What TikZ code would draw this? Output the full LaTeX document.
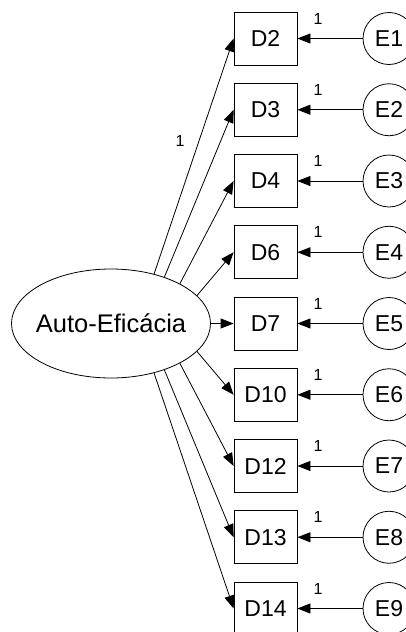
\documentclass[tikz,border=0pt]{standalone}
\usepackage{fontspec}
\setmainfont{Liberation Sans}
\usetikzlibrary{shapes.geometric,arrows.meta}
\begin{document}
\begin{tikzpicture}[x=1pt,y=-1pt,
  every node/.style={inner sep=0pt},
  obs/.style={draw, line width=0.8pt, minimum width=63pt, minimum height=53pt, font=\fontsize{23}{26}\selectfont},
  err/.style={draw, circle, line width=0.8pt, minimum size=52pt, font=\fontsize{23}{26}\selectfont},
  lat/.style={draw, ellipse, line width=0.8pt, inner xsep=-6pt, minimum width=199pt, minimum height=109pt, font=\fontsize{25.5}{28}\selectfont},
  path/.style={line width=0.8pt, -{Triangle[length=13pt,width=10pt]}},
  wlab/.style={font=\fontsize{16}{18}\selectfont}
]
\useasboundingbox (0,0) rectangle (406,632);
\clip (0,0) rectangle (406,632);

\node[lat] (ae) at (111,323.5) {Auto-Eficácia};

\foreach \d/\e/\i in {D2/E1/0,D3/E2/1,D4/E3/2,D6/E4/3,D7/E5/4,D10/E6/5,D12/E7/6,D13/E8/7,D14/E9/8}{
  \node[obs] (\d) at (265.5,{38.5+71.25*\i}) {\d};
  \node[err] (\e) at (389,{38.5+71.25*\i}) {\e};
  \draw[path] (\e.west) -- (\d.east);
  \node[wlab] (w\d) at (318,{18.7+71.25*\i}) {1};
}

\draw[path] (ae.49.6) -- (D2.west);
\draw[path] (ae.41.9) -- (D3.west);
\draw[path] (ae.30.8) -- (D4.west);
\draw[path] (ae.18.1) -- (D6.west);
\draw[path] (ae.east) -- (D7.west);
\draw[path] (ae.-18.1) -- (D10.west);
\draw[path] (ae.-30.8) -- (D12.west);
\draw[path] (ae.-41.9) -- (D13.west);
\draw[path] (ae.-49.6) -- (D14.west);

\node[wlab] (wpath) at (180,140.7) {1};
\end{tikzpicture}
\end{document}
